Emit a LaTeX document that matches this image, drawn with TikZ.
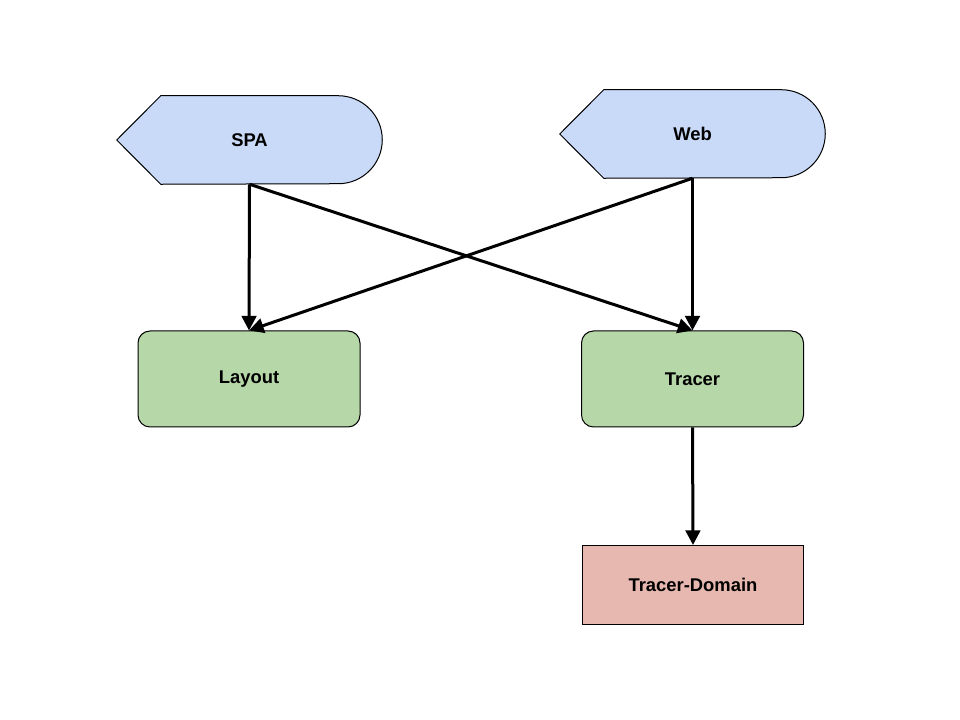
\documentclass[tikz,border=0pt]{standalone}
\usepackage{fontspec}
\setmainfont{Liberation Sans}
\usetikzlibrary{arrows.meta,calc}

\definecolor{dispblue}{HTML}{C9DAF8}
\definecolor{modgreen}{HTML}{B6D7A8}
\definecolor{domred}{HTML}{E6B8AF}

\begin{document}
\begin{tikzpicture}[x=0.75pt, y=0.75pt,
  font=\fontsize{13.8}{16}\selectfont\bfseries,
  disp/.style = {minimum width=198.75pt, minimum height=66pt, inner sep=0pt},
  dispshape/.style = {draw, fill=dispblue, line width=0.75pt},
  module/.style = {draw, fill=modgreen, rounded corners=9pt, line width=0.75pt, minimum width=166.5pt, minimum height=72pt},
  dombox/.style = {draw, fill=domred, line width=0.75pt, minimum width=165.75pt, minimum height=59.25pt},
  dep/.style = {-{Triangle[length=11pt, width=11pt]}, line width=2.25pt}]
				\useasboundingbox (0,0) rectangle (960,720);
				% display shapes
				\node[disp] (spa) at (249.5,580) {};
				\node[disp] (web) at (692.5,586) {};
				\draw[dispshape] (spa.west) -- ($(spa.north west)+(44,0)$) -- ($(spa.north east)-(44,0)$) arc[start angle=90, end angle=-90, radius=44] -- ($(spa.south west)+(44,0)$) -- cycle;
				\draw[dispshape] (web.west) -- ($(web.north west)+(44,0)$) -- ($(web.north east)-(44,0)$) arc[start angle=90, end angle=-90, radius=44] -- ($(web.south west)+(44,0)$) -- cycle;
				\node at (spa) {SPA};
				\node at (web) {Web};
				% modules
				\node[module] (layout) at (249,341) {Layout};
				\node[module] (tracer) at (692.5,341) {Tracer};
				\node[dombox] (domain) at (693,135) {Tracer-Domain};
				\draw[dep] (spa.south) -- (layout.north);
				\draw[dep] (spa.south) -- (tracer.north);
				\draw[dep] (web.south) -- (layout.north);
				\draw[dep] (web.south) -- (tracer.north);
				\draw[dep] (tracer.south) -- (domain.north);
\end{tikzpicture}
\end{document}
